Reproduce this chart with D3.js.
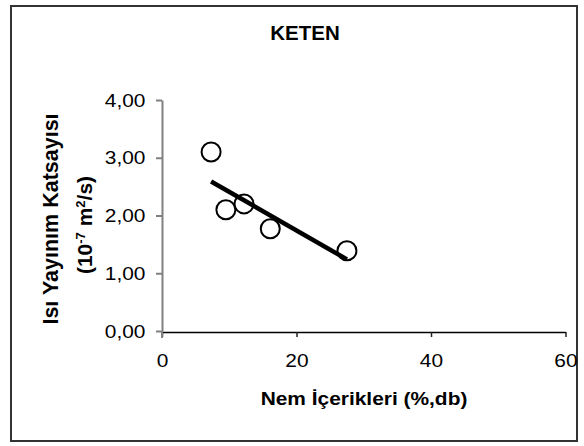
<!DOCTYPE html>
<html>
<head>
<meta charset="utf-8">
<script src="https://cdn.jsdelivr.net/npm/d3@7"></script>
<style>
  body { margin: 0; background: #fff; }
  text { font-family: "Liberation Sans", Arial, sans-serif; }
</style>
</head>
<body>
<div id="canvas"></div>
<script>
// values
var moisture = [7.3, 9.5, 12.2, 16.1, 27.5];
var diffusivity = [3.10, 2.10, 2.20, 1.77, 1.39];
// linear trendline end points
var trendX = [7.3, 27.5];
var trendY = [2.59, 1.24];
var xTicks = [0, 20, 40, 60];
var yTicks = [0, 1, 2, 3, 4];

var width = 584, height = 446;
var plot = {left: 162, right: 565.5, top: 100, bottom: 331};

var svg = d3.select("#canvas")
    .append("svg")
    .attr("width", width)
    .attr("height", height);

svg.append("rect")
    .attr("width", width).attr("height", height)
    .attr("fill", "#fff");

// outer frame
svg.append("rect")
    .attr("x", 11).attr("y", 6)
    .attr("width", 566).attr("height", 435)
    .attr("fill", "none")
    .attr("stroke", "#333")
    .attr("stroke-width", 2);

var xScale = d3.scaleLinear().domain([0, 60]).range([plot.left, plot.right]);
var yScale = d3.scaleLinear().domain([0, 4]).range([plot.bottom, plot.top]);

var commaFmt = function(d){ return d3.format(".2f")(d).replace(".", ","); };

// x axis (black)
var gx = svg.append("g")
    .attr("transform", "translate(0," + (yScale(0) + 1) + ")")
    .call(d3.axisBottom(xScale).tickValues(xTicks).tickSize(5).tickSizeOuter(0).tickPadding(17));
gx.select(".domain").attr("stroke", "#000").attr("stroke-width", 1.5);
gx.selectAll(".tick line").attr("stroke", "#222").attr("stroke-width", 1.5);
gx.selectAll(".tick text")
    .attr("font-size", 19)
    .attr("fill", "#000")
    .attr("font-family", "Liberation Sans, Arial, sans-serif")
    .each(function(){
      var t = d3.select(this);
      t.attr("transform", "scale(1.1,1)").attr("x", 0);
    });

// y axis (gray)
var gy = svg.append("g")
    .attr("transform", "translate(" + xScale(0) + ",0)")
    .call(d3.axisLeft(yScale).tickValues(yTicks).tickFormat(commaFmt).tickSize(6).tickSizeOuter(0).tickPadding(9));
gy.select(".domain").attr("stroke", "#808080").attr("stroke-width", 2);
gy.selectAll(".tick line").attr("stroke", "#808080").attr("stroke-width", 2);
gy.selectAll(".tick text")
    .attr("font-size", 19)
    .attr("fill", "#000")
    .attr("font-family", "Liberation Sans, Arial, sans-serif")
    .attr("transform", "translate(-15,0) scale(1.1,1) translate(13.6,0)");
// small gray stub under the x axis at 0
gy.append("line")
    .attr("y1", yScale(0)).attr("y2", yScale(0) + 7)
    .attr("stroke", "#808080").attr("stroke-width", 2);

// points
svg.append("g").selectAll("circle")
    .data(moisture)
    .enter().append("circle")
    .attr("cx", function(d){ return xScale(d); })
    .attr("cy", function(d, i){ return yScale(diffusivity[i]); })
    .attr("r", 9.5)
    .attr("fill", "#fff")
    .attr("stroke", "#000")
    .attr("stroke-width", 2);

// trendline
var trend = trendX.map(function(d, i){ return {x: d, y: trendY[i]}; });
svg.append("path")
    .datum(trend)
    .attr("fill", "none")
    .attr("stroke", "#000")
    .attr("stroke-width", 4.5)
    .attr("d", d3.line().x(function(d){ return xScale(d.x); }).y(function(d){ return yScale(d.y); }));

// title
svg.append("text")
    .attr("x", 305).attr("y", 40)
    .attr("text-anchor", "middle")
    .attr("font-size", 20.5)
    .attr("font-weight", "bold")
    .text("KETEN");

// x axis title
svg.append("text")
    .attr("transform", "translate(364,405) scale(1.1,1)")
    .attr("text-anchor", "middle")
    .attr("font-size", 19)
    .attr("font-weight", "bold")
    .text("Nem İçerikleri (%,db)");

// y axis title, two lines
var yt = svg.append("g")
    .attr("transform", "translate(0,219) rotate(-90)");
yt.append("text")
    .attr("x", 0).attr("y", 58)
    .attr("text-anchor", "middle")
    .attr("font-size", 21.5)
    .attr("font-weight", "bold")
    .text("Isı Yayınım Katsayısı");
var l2 = yt.append("text")
    .attr("x", -6).attr("y", 92)
    .attr("text-anchor", "middle")
    .attr("font-size", 21)
    .attr("font-weight", "bold");
l2.append("tspan").text("(10");
l2.append("tspan").attr("baseline-shift", "super").attr("font-size", 13).text("-7");
l2.append("tspan").text(" m");
l2.append("tspan").attr("baseline-shift", "super").attr("font-size", 13).text("2");
l2.append("tspan").text("/s)");
</script>
</body>
</html>
